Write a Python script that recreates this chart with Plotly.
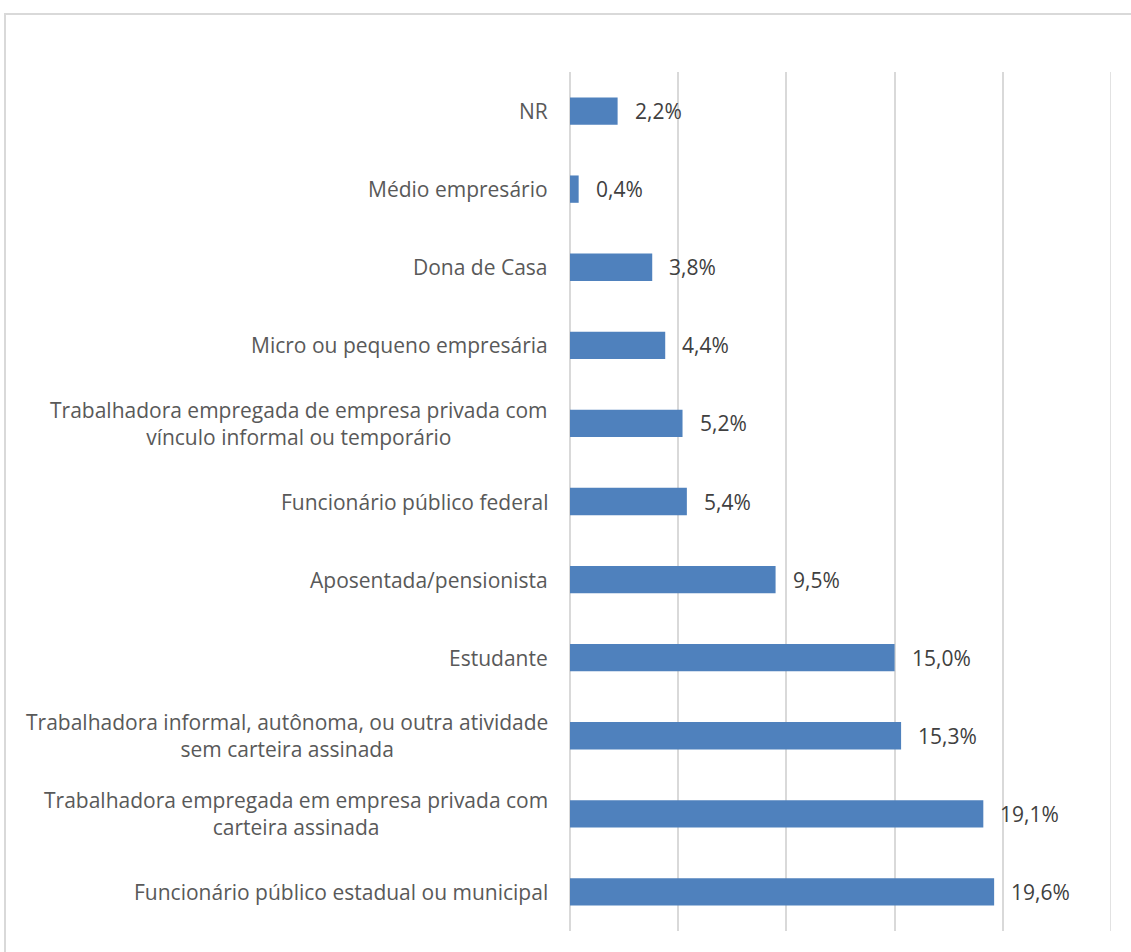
import plotly.graph_objects as go

# Occupation categories, listed bottom to top
categories = [
    "Funcionário público estadual ou municipal",
    "Trabalhadora empregada em empresa privada com<br>carteira assinada",
    "Trabalhadora informal, autônoma, ou outra atividade<br>sem carteira assinada",
    "Estudante",
    "Aposentada/pensionista",
    "Funcionário público federal",
    "Trabalhadora empregada de empresa privada com<br>vínculo informal ou temporário",
    "Micro ou pequeno empresária",
    "Dona de Casa",
    "Médio empresário",
    "NR",
]
values = [19.6, 19.1, 15.3, 15.0, 9.5, 5.4, 5.2, 4.4, 3.8, 0.4, 2.2]
value_labels = ["19,6%", "19,1%", "15,3%", "15,0%", "9,5%", "5,4%", "5,2%",
                "4,4%", "3,8%", "0,4%", "2,2%"]

W, H = 1131, 952
L, R, T, B = 570, 20, 72, 21
FONT = "Open Sans"
FS = 21

fig = go.Figure(go.Bar(
    x=values, y=categories, orientation="h",
    marker=dict(color="#4f81bd", line=dict(width=0)),
    width=0.35, hoverinfo="skip",
))

# value labels right of each bar
for v, c, t in zip(values, categories, value_labels):
    fig.add_annotation(x=v, y=c, text=t, showarrow=False, xanchor="left",
                       xshift=15, font=dict(family=FONT, size=FS, color="#404040"))

# category labels: lines centred, block right-aligned against the axis
for c in categories:
    fig.add_annotation(x=0, xref="paper", y=c, text=c, showarrow=False,
                       xanchor="right", xshift=-20, align="center",
                       font=dict(family=FONT, size=FS, color="#595959"))

pw, ph = W - L - R, H - T - B
# chart frame (top and left edges visible)
fig.add_shape(type="rect", xref="paper", yref="paper",
              x0=(5 - L) / pw, x1=(W + 10 - L) / pw,
              y0=-(B + 10) / ph, y1=1 + (T - 14) / ph,
              line=dict(color="#d9d9d9", width=2), layer="below")
# gridline at the right end of the axis
fig.add_shape(type="line", xref="x", yref="paper", x0=25, x1=25, y0=0, y1=1,
              line=dict(color="#d9d9d9", width=1.5), layer="below")

fig.update_layout(
    width=W, height=H,
    margin=dict(l=L, r=R, t=T, b=B),
    plot_bgcolor="white", paper_bgcolor="white",
    showlegend=False,
    xaxis=dict(range=[0, 25], dtick=5, showgrid=True, gridcolor="#d9d9d9",
               gridwidth=1.5, showticklabels=False, zeroline=True,
               zerolinecolor="#d9d9d9", zerolinewidth=1.5,
               showline=False, fixedrange=True),
    yaxis=dict(showticklabels=False, showgrid=False, zeroline=False,
               categoryorder="array", categoryarray=categories,
               range=[-0.5, len(categories) - 0.5]),
)

fig.write_html("out.html")
